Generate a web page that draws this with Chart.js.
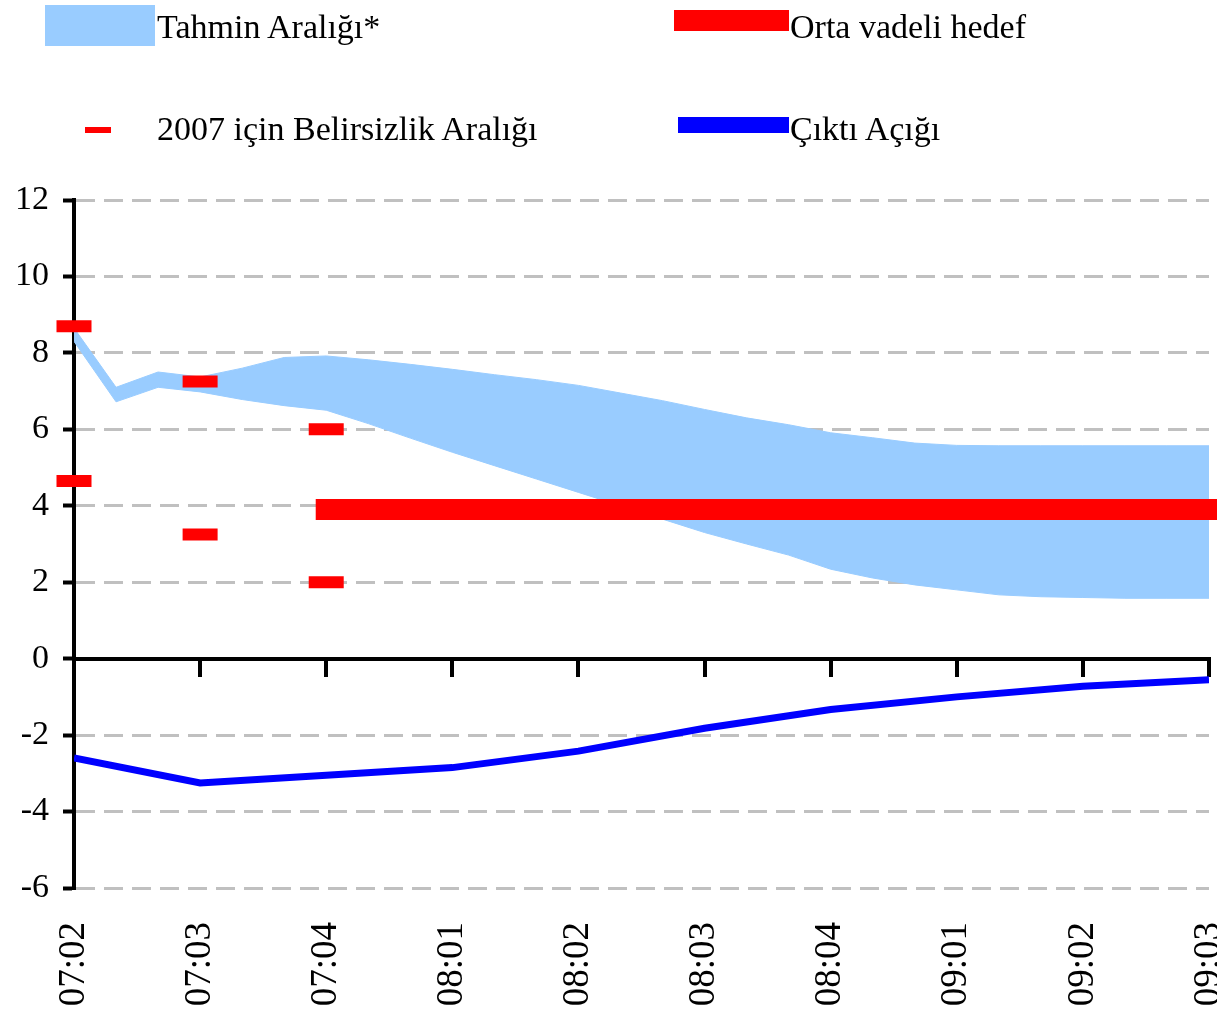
<!DOCTYPE html>
<html>
<head>
<meta charset="utf-8">
<script src="https://cdn.jsdelivr.net/npm/chart.js@4.4.1/dist/chart.umd.min.js"></script>
<style>
html,body{margin:0;padding:0;background:#fff;}
#wrap{position:relative;width:1217px;height:1018px;overflow:hidden;background:#fff;}
#c{position:absolute;left:0;top:0;}
.lg{position:absolute;font-family:'Liberation Serif','Times New Roman',serif;font-size:34px;color:#000;line-height:1;white-space:nowrap;}
.sw{position:absolute;}
</style>
</head>
<body>
<div id="wrap">
<canvas id="c" width="1217" height="1018"></canvas>
<div class="sw" style="left:45px;top:5px;width:110px;height:41px;background:#99ccff"></div>
<div class="lg" style="left:157px;top:10px">Tahmin Aralığı*</div>
<div class="sw" style="left:674px;top:10px;width:115px;height:21px;background:#ff0000"></div>
<div class="lg" style="left:790px;top:10px">Orta vadeli hedef</div>
<div class="sw" style="left:85px;top:127px;width:26px;height:6px;background:#ff0000"></div>
<div class="lg" style="left:157px;top:112px">2007 için Belirsizlik Aralığı</div>
<div class="sw" style="left:678px;top:117px;width:111px;height:16px;background:#0000ff"></div>
<div class="lg" style="left:790px;top:112px">Çıktı Açığı</div>
</div>
<script>
// Quarter tick labels (one every 3 months)
const quarterLabels = ['07:02','07:03','07:04','08:01','08:02','08:03','08:04','09:01','09:02','09:03'];
const quarterMonths = [0,3,6,9,12,15,18,21,24,27];

// Forecast band (monthly)
const bandMonths = [0,1,2,3,4,5,6,7,8,9,10,11,12,13,14,15,16,17,18,19,20,21,22,23,24,25,26,27];
const bandUpper = [8.65,7.10,7.50,7.37,7.60,7.88,7.92,7.82,7.70,7.57,7.43,7.30,7.15,6.95,6.75,6.52,6.30,6.12,5.91,5.78,5.64,5.58,5.57,5.57,5.57,5.57,5.57,5.57];
const bandLower = [8.30,6.72,7.10,6.98,6.78,6.62,6.50,6.15,5.77,5.40,5.05,4.70,4.35,4.00,3.65,3.30,3.00,2.71,2.34,2.11,1.93,1.80,1.67,1.62,1.60,1.58,1.58,1.58];

// Medium-term target
const targetMonths = [6,27];
const targetValues = [3.9,3.9];

// 2007 uncertainty range markers
const uncMonths = [0,0,3,3,6,6];
const uncValues = [8.70,4.65,7.25,3.25,6.00,2.00];

// Output gap (quarterly)
const gapValues = [-2.60,-3.25,-3.05,-2.85,-2.42,-1.82,-1.33,-1.00,-0.72,-0.55];

const FONT = "'Liberation Serif','Times New Roman',serif";
const pts = (xs, ys) => xs.map((x,i)=>({x:x, y:ys[i]}));
const noPad = (s) => {
  s.paddingLeft = 0; s.paddingRight = 0; s.paddingTop = 0; s.paddingBottom = 0;
};

new Chart(document.getElementById('c'), {
  type: 'line',
  data: {
    datasets: [
      {label:'Tahmin Aralığı*', data: pts(bandMonths, bandUpper), borderColor:'#99ccff', borderWidth:1, pointRadius:0, fill:'+1', backgroundColor:'#99ccff', tension:0, order:5},
      {label:'lower', data: pts(bandMonths, bandLower), borderColor:'#99ccff', borderWidth:1, pointRadius:0, fill:false, tension:0, order:6},
      {label:'Orta vadeli hedef', data: pts(targetMonths, targetValues), borderColor:'#ff0000', borderWidth:21, borderCapStyle:'square', pointRadius:0, fill:false, clip:false, order:3},
      {label:'2007 için Belirsizlik Aralığı', type:'scatter', data: pts(uncMonths, uncValues), pointStyle:'line', pointRadius:17.5, pointHoverRadius:17.5, borderColor:'#ff0000', backgroundColor:'#ff0000', borderWidth:12, showLine:false, clip:false, order:2},
      {label:'Çıktı Açığı', data: pts(quarterMonths, gapValues), borderColor:'#0000ff', borderWidth:7, pointRadius:0, tension:0, fill:false, order:1}
    ]
  },
  options: {
    responsive:false, animation:false, devicePixelRatio:1, events:[],
    layout:{autoPadding:false, padding:{top:200,left:0,right:8,bottom:0}},
    plugins:{legend:{display:false}, tooltip:{enabled:false}},
    scales:{
      x:{type:'linear', position:'bottom', min:0, max:27,
        ticks:{stepSize:3, autoSkip:false, minRotation:90, maxRotation:90, padding:34, color:'#000', font:{family:FONT,size:37},
          callback:(v)=> (quarterMonths.indexOf(v) >= 0 ? quarterLabels[quarterMonths.indexOf(v)] : '')},
        grid:{display:false, drawTicks:false}, border:{display:false},
        afterFit:(s)=>{ s.height=130; noPad(s); }
      },
      x2:{type:'linear', axis:'x', position:{y:0}, min:0, max:27,
        ticks:{stepSize:3, autoSkip:false, callback:()=>'', padding:0},
        grid:{drawOnChartArea:false, drawTicks:true, tickLength:16, tickColor:'#000', tickWidth:4, color:'#000', lineWidth:4},
        border:{display:true, color:'#000', width:4},
        afterFit:(s)=>{ noPad(s); }
      },
      y:{min:-6, max:12,
        ticks:{stepSize:2, padding:14, color:'#000', font:{family:FONT,size:34}},
        grid:{color:(c)=> (c.tick && c.tick.value===0 ? 'rgba(0,0,0,0)' : '#c0c0c0'), lineWidth:3, tickColor:'#000', tickWidth:4, tickLength:11, tickBorderDash:[]},
        border:{display:true, color:'#000', width:4, dash:[19,9]},
        afterFit:(s)=>{ s.width=74; }
      }
    }
  }
});
</script>
</body>
</html>
